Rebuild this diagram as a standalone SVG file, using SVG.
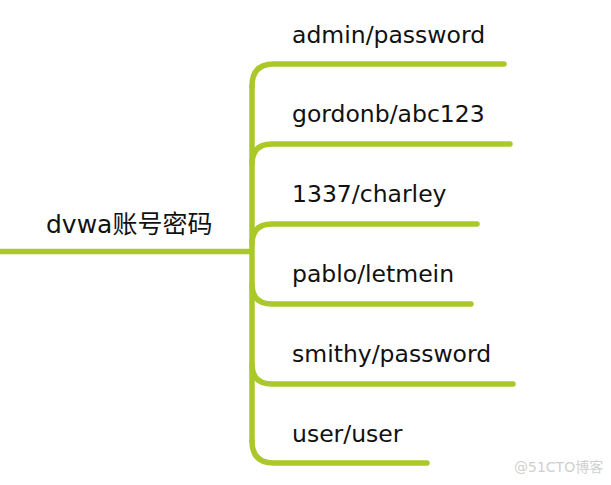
<svg xmlns="http://www.w3.org/2000/svg" width="611" height="485" viewBox="0 0 611 485">
<style>
.ln{fill:none;stroke:#abc82b;stroke-width:5.5;stroke-linecap:round;stroke-linejoin:round}
.t{font-family:"DejaVu Sans","Noto Sans CJK SC",sans-serif;font-size:23.5px;fill:#111}
.r{font-size:25px}
.wm{font-family:"DejaVu Sans","Noto Sans CJK SC",sans-serif;font-size:14px;fill:#cfcfcf}
</style>
<rect width="611" height="485" fill="#fff"/>
<g id="connectors">
<path class="ln" d="M0 251.5 L250 251.5"/>
<path class="ln" d="M252 86 L252 441"/>
<path class="ln" d="M252 86 Q252 64 274 64 L504 64"/>
<path class="ln" d="M252 164 Q252 144 272 144 L510 144"/>
<path class="ln" d="M252 244 Q252 224 272 224 L477 224"/>
<path class="ln" d="M252 284 Q252 304 272 304 L471 304"/>
<path class="ln" d="M252 364 Q252 384 272 384 L513 384"/>
<path class="ln" d="M252 441 Q252 463 274 463 L427 463"/>
</g>
<g id="root"><text class="t r" x="46" y="233">dvwa账号密码</text></g>
<g id="n1"><text class="t" x="292" y="43">admin/password</text></g>
<g id="n2"><text class="t" x="292" y="122">gordonb/abc123</text></g>
<g id="n3"><text class="t" x="292" y="202">1337/charley</text></g>
<g id="n4"><text class="t" x="292" y="282">pablo/letmein</text></g>
<g id="n5"><text class="t" x="292" y="362">smithy/password</text></g>
<g id="n6"><text class="t" x="292" y="442">user/user</text></g>
<text class="wm" x="514" y="472">@51CTO博客</text>
</svg>
